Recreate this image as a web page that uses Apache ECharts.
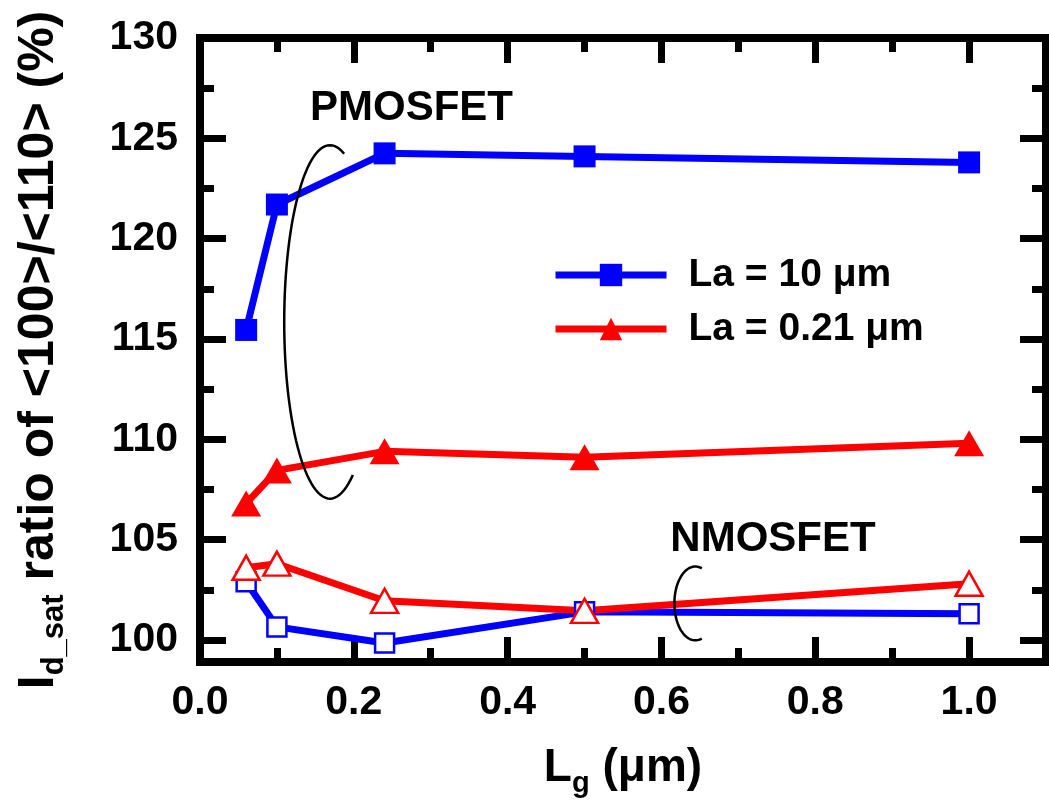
<!DOCTYPE html>
<html><head><meta charset="utf-8">
<script src="https://cdn.jsdelivr.net/npm/echarts@6/dist/echarts.min.js"></script>
<style>html,body{margin:0;padding:0;background:#fff}#c{width:1049px;height:811px}</style>
</head><body><div id="c"></div>
<script>
// ---- data ----
const lgValues   = [0.06, 0.10, 0.24, 0.50, 1.00];          // L_g (um)
const pmosLa10   = [115.45, 121.7, 124.25, 124.1, 123.8];    // PMOSFET, La = 10 um
const pmosLa021  = [106.8, 108.45, 109.4, 109.1, 109.8];     // PMOSFET, La = 0.21 um
const nmosLa10   = [102.9, 100.65, 99.85, 101.4, 101.3];     // NMOSFET, La = 10 um
const nmosLa021  = [103.6, 103.8, 101.95, 101.45, 102.8];    // NMOSFET, La = 0.21 um
const xMajorTicks = [0, 0.2, 0.4, 0.6, 0.8, 1.0];
const xMinorTicks = [0.1, 0.3, 0.5, 0.7, 0.9];
const yMajorTicks = [100, 105, 110, 115, 120, 125, 130];
const yMinorTicks = [102.5, 107.5, 112.5, 117.5, 122.5, 127.5];
const seriesNames = ['La = 10 μm', 'La = 0.21 μm'];
const annotationTexts = ['PMOSFET', 'NMOSFET'];
const annotationAnchors = [[0.275, 126.5], [0.745, 105.0]];
// brackets: [centerX, centerY, halfWidthX, halfHeightY, startDeg, endDeg]
const bracketDefs = [[0.169, 115.85, 0.0595, 8.81, -72, 60], [0.644, 101.82, 0.0272, 1.84, -72, 72]];

const FONT = 'Liberation Sans, Arial, sans-serif';
const XMIN = 0, XMAX = 1.1, YMIN = 98.9, YMAX = 130;
const toPairs = ys => lgValues.map((x, i) => [x, ys[i]]);

function mkX(grid, pos, ticks, len, main) {
  return {
    type: 'value', gridIndex: grid, position: pos, min: XMIN, max: XMAX,
    axisLine: { show: main, onZero: false, lineStyle: { color: '#000', width: 8, cap: 'square' } },
    axisTick: { show: true, inside: true, length: len, customValues: ticks, lineStyle: { color: '#000', width: 7 } },
    axisLabel: (main && pos === 'bottom') ? {
      show: true, customValues: xMajorTicks, formatter: v => Number(v).toFixed(1),
      fontSize: 41, fontWeight: 'bold', fontFamily: FONT, color: '#000', margin: 20
    } : { show: false },
    splitLine: { show: false },
    name: (main && pos === 'bottom') ? '{m|L}{s|g}{m| (μm)}' : '',
    nameLocation: 'middle', nameGap: 83,
    nameTextStyle: {
      color: '#000', fontFamily: FONT,
      rich: {
        m: { fontSize: 46, fontWeight: 'bold', fontFamily: FONT, color: '#000', lineHeight: 46, verticalAlign: 'top' },
        s: { fontSize: 29, fontWeight: 'bold', fontFamily: FONT, color: '#000', lineHeight: 29, padding: [31, 0, 0, 0] }
      }
    }
  };
}
function mkY(grid, pos, ticks, len, main) {
  return {
    type: 'value', gridIndex: grid, position: pos, min: YMIN, max: YMAX,
    axisLine: { show: main, onZero: false, lineStyle: { color: '#000', width: 8, cap: 'square' } },
    axisTick: { show: true, inside: true, length: len, customValues: ticks, lineStyle: { color: '#000', width: 7 } },
    axisLabel: (main && pos === 'left') ? {
      show: true, customValues: yMajorTicks, formatter: v => String(Math.round(v)),
      fontSize: 41, fontWeight: 'bold', fontFamily: FONT, color: '#000', margin: 22
    } : { show: false },
    splitLine: { show: false },
    name: (main && pos === 'left') ? '{m|I}{s|d_sat}{m| ratio of <100>/<110> (%)}' : '',
    nameLocation: 'middle', nameGap: 136, nameRotate: 90,
    nameTextStyle: {
      color: '#000', fontFamily: FONT,
      rich: {
        m: { fontSize: 50, fontWeight: 'bold', fontFamily: FONT, color: '#000', lineHeight: 50, verticalAlign: 'top' },
        s: { fontSize: 31, fontWeight: 'bold', fontFamily: FONT, color: '#000', lineHeight: 31, padding: [31, 0, 0, 0] }
      }
    }
  };
}

const BLUE = '#0000ff', RED = '#ff0000';
const chart = echarts.init(document.getElementById('c'), null, { renderer: 'canvas' });
const gridRect = { left: 200, right: 3, top: 38, bottom: 149, outerBoundsMode: 'none' };
chart.setOption({
  animation: false,
  backgroundColor: '#fff',
  grid: [Object.assign({}, gridRect), Object.assign({}, gridRect)],
  xAxis: [
    mkX(0, 'bottom', xMajorTicks, 25, true),
    mkX(0, 'top', xMajorTicks, 25, true),
    mkX(1, 'bottom', xMinorTicks, 14, false),
    mkX(1, 'top', xMinorTicks, 14, false)
  ],
  yAxis: [
    mkY(0, 'left', yMajorTicks, 26, true),
    mkY(0, 'right', yMajorTicks, 26, true),
    mkY(1, 'left', yMinorTicks, 14, false),
    mkY(1, 'right', yMinorTicks, 14, false)
  ],
  legend: {
    data: seriesNames, orient: 'vertical', left: 552, top: 255, padding: 0,
    itemWidth: 111, itemHeight: 28, itemGap: 14,
    lineStyle: { width: 7 },
    textStyle: { fontSize: 39, fontWeight: 'bold', fontFamily: FONT, color: '#000', lineHeight: 40, padding: [0, 0, 0, 17] }
  },
  series: [
    { name: seriesNames[0], type: 'line', xAxisIndex: 0, yAxisIndex: 0, data: toPairs(pmosLa10),
      symbol: 'rect', symbolSize: 22, lineStyle: { color: BLUE, width: 7 }, itemStyle: { color: BLUE } },
    { name: seriesNames[1], type: 'line', xAxisIndex: 0, yAxisIndex: 0, data: toPairs(pmosLa021),
      symbol: 'triangle', symbolSize: [30, 26], lineStyle: { color: RED, width: 7 }, itemStyle: { color: RED } },
    { name: seriesNames[0], type: 'line', xAxisIndex: 0, yAxisIndex: 0, data: toPairs(nmosLa10),
      symbol: 'rect', symbolSize: 19, lineStyle: { color: BLUE, width: 7 },
      itemStyle: { color: '#fff', borderColor: BLUE, borderWidth: 2.5 } },
    { name: seriesNames[1], type: 'line', xAxisIndex: 0, yAxisIndex: 0, data: toPairs(nmosLa021),
      symbol: 'triangle', symbolSize: [27, 24], lineStyle: { color: RED, width: 7 },
      itemStyle: { color: '#fff', borderColor: RED, borderWidth: 2.5 } }
  ]
});

// annotations anchored in data coordinates
const px = p => chart.convertToPixel({ gridIndex: 0 }, p);
const graphics = [];
annotationTexts.forEach((t, i) => {
  const p = px(annotationAnchors[i]);
  graphics.push({ type: 'text', x: p[0], y: p[1], z: 10,
    style: { text: t, fill: '#000', font: 'bold 42px ' + FONT, textAlign: 'center', textVerticalAlign: 'middle' } });
});
bracketDefs.forEach(b => {
  const c = px([b[0], b[1]]);
  const e = px([b[0] + b[2], b[1] - b[3]]);
  const rx = e[0] - c[0], ry = e[1] - c[1];
  const pts = [];
  for (let a = b[5]; a <= b[4] + 360; a += 3) {
    const r = a * Math.PI / 180;
    pts.push([c[0] + rx * Math.cos(r), c[1] + ry * Math.sin(r)]);
  }
  graphics.push({ type: 'polyline', z: 10, shape: { points: pts, smooth: 0 },
    style: { stroke: '#000', lineWidth: 2.5, fill: null } });
});
chart.setOption({ graphic: graphics });
</script>
</body></html>
